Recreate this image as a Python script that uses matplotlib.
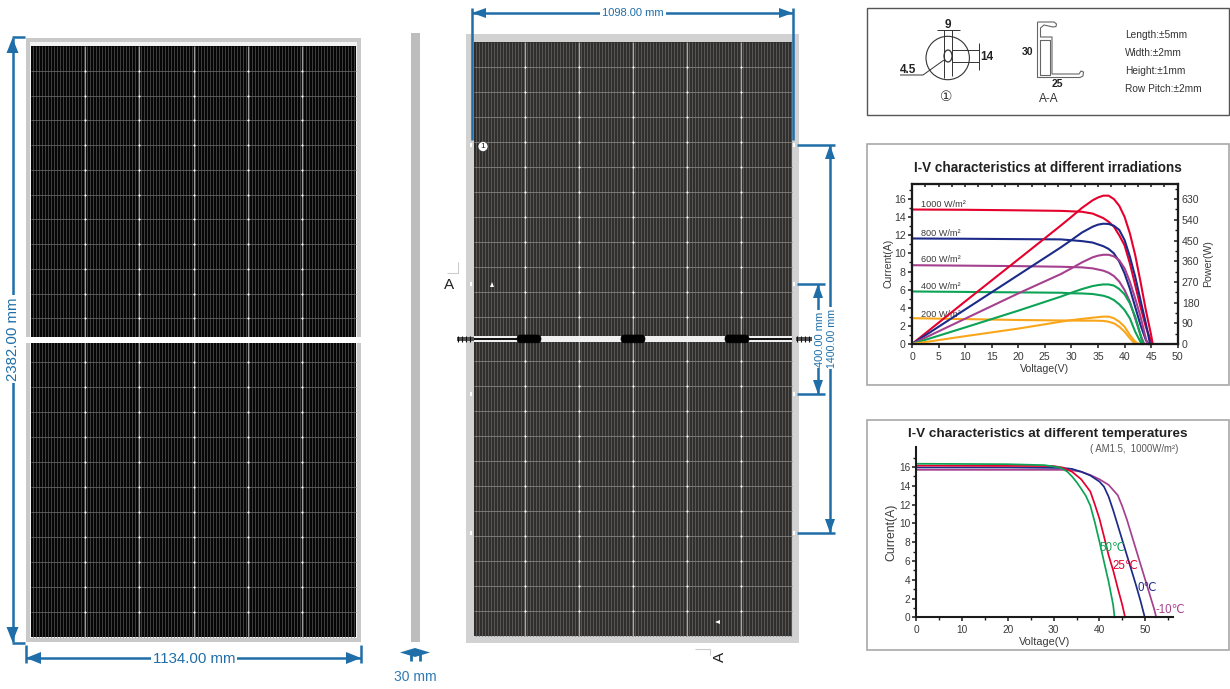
import numpy as np
import matplotlib
matplotlib.use("Agg")
import matplotlib.pyplot as plt
from matplotlib.patches import Rectangle, FancyBboxPatch, Circle, Polygon, Ellipse
from matplotlib.collections import LineCollection

plt.rcParams['font.family'] = ['Liberation Sans', 'DejaVu Sans']
W, H = 1230, 689
BLUE = '#1f6ea8'

# ---- chart data ----
VI_1000 = [0, 10, 20, 28, 32, 34, 36, 37, 38, 39, 40, 41, 42, 43, 44, 45, 45.2]
I_1000 = [14.85, 14.82, 14.76, 14.7, 14.6, 14.4, 13.9, 13.5, 12.95, 12.0, 10.9, 8.9, 6.5, 4.1, 1.9, 0.3, 0]
VI_800 = [0, 10, 20, 28, 32, 34, 36, 37, 38, 39, 40, 41, 42, 43, 44, 44.5]
I_800 = [11.65, 11.62, 11.58, 11.55, 11.36, 11.2, 10.8, 10.5, 10.0, 9.1, 7.8, 6.1, 4.1, 2.1, 0.45, 0]
VI_600 = [0, 10, 20, 28, 32, 34, 36, 37, 38, 39, 40, 41, 42, 43, 43.7]
I_600 = [8.7, 8.65, 8.6, 8.53, 8.46, 8.35, 8.1, 7.87, 7.5, 6.9, 5.96, 4.67, 2.83, 1.0, 0]
VI_400 = [0, 10, 20, 28, 30, 32, 34, 36, 37, 38, 39, 40, 41, 42, 43.2]
I_400 = [5.8, 5.75, 5.7, 5.66, 5.6, 5.58, 5.52, 5.33, 5.15, 4.85, 4.38, 3.75, 2.83, 1.36, 0]
VI_200 = [0, 10, 20, 28, 32, 34, 36, 37, 38, 39, 40, 41, 42]
I_200 = [2.85, 2.75, 2.65, 2.6, 2.58, 2.58, 2.55, 2.46, 2.28, 1.91, 1.36, 0.63, 0]

VP_1000 = [0, 10, 20, 28, 30, 32, 34, 35, 36, 37, 38, 39, 40, 41, 42, 43, 44, 45, 45.3]
P_1000 = [0, 185, 368, 515, 553, 592, 625, 637, 645, 645, 630, 601, 553, 481, 387, 271, 148, 39, 0]
VP_800 = [0, 10, 20, 28, 30, 32, 34, 35, 36, 37, 38, 39, 40, 41, 42, 43, 44, 44.8]
P_800 = [0, 150, 300, 420, 452, 485, 510, 519, 523, 522, 514, 496, 452, 380, 293, 191, 90, 0]
VP_600 = [0, 10, 20, 28, 30, 32, 34, 35, 36, 37, 38, 39, 40, 41, 42, 43, 44, 44.3]
P_600 = [0, 110, 220, 304, 329, 355, 377, 384, 388, 388, 381, 364, 329, 271, 198, 119, 25, 0]
VP_400 = [0, 10, 20, 28, 30, 32, 34, 35, 36, 37, 38, 39, 40, 41, 42, 43, 43.4]
P_400 = [0, 72, 145, 206, 223, 239, 252, 256, 259, 259, 254, 239, 216, 177, 119, 39, 0]
VP_200 = [0, 10, 20, 28, 30, 32, 34, 36, 37, 38, 39, 40, 41, 42, 42.7]
P_200 = [0, 34, 67, 97, 104, 109, 114.5, 119, 119, 112, 97, 75, 39, 10, 0]

V_50 = [0, 20, 28, 31.4, 33, 34, 35, 36, 37, 38, 39, 40, 41, 42, 43, 43.3]
I_50 = [16.35, 16.3, 16.2, 15.95, 15.5, 15.0, 14.4, 13.7, 12.95, 11.9, 10.1, 8.06, 5.9, 3.8, 1.3, 0]
V_25 = [0, 20, 30, 32, 34, 36, 38, 39, 40, 41, 42, 43, 44, 45, 45.6]
I_25 = [16.15, 16.12, 16.1, 15.95, 15.5, 14.7, 13.4, 12.0, 10.5, 8.6, 6.6, 5.0, 3.1, 1.3, 0]
V_0 = [0, 20, 32, 34, 36, 38, 40, 41, 42, 43, 44, 45, 46, 47, 48, 49, 49.9]
I_0 = [15.95, 15.95, 15.9, 15.8, 15.5, 15.1, 14.45, 13.9, 12.85, 11.4, 9.8, 8.2, 6.6, 5.0, 3.4, 1.7, 0]
V_m10 = [0, 20, 32, 34, 36, 38, 40, 42, 44, 45, 46, 47, 48, 49, 50, 51, 52, 52.4]
I_m10 = [15.7, 15.7, 15.7, 15.65, 15.5, 15.15, 14.7, 14.1, 13.0, 11.8, 10.4, 8.8, 7.2, 5.6, 4.0, 2.4, 0.8, 0]

IRR_LABELS = ['1000 W/m²', '800 W/m²', '600 W/m²', '400 W/m²', '200 W/m²']
IRR_COLORS = ['#e5002d', '#1c2a88', '#a5408f', '#0da356', '#f9a61a']
TEMP_LABELS = ['50℃', '25℃', '0℃', '-10℃']
TEMP_COLORS = ['#0da356', '#e5002d', '#1c2a88', '#a5408f']

fig = plt.figure(figsize=(W / 100, H / 100), dpi=100, facecolor='white')
bg = fig.add_axes([0, 0, 1, 1])
bg.set_xlim(0, W)
bg.set_ylim(H, 0)
bg.axis('off')


def rect(x0, y0, x1, y1, fc='none', ec='none', lw=0, z=1):
    bg.add_patch(Rectangle((x0, y0), x1 - x0, y1 - y0, fc=fc, ec=ec, lw=lw, zorder=z))


def lines(segs, color, lw, z=2, alpha=1):
    bg.add_collection(LineCollection(segs, colors=color, linewidths=lw, zorder=z, alpha=alpha))


def arrow_head(x, y, direction, length=15, half=6):
    dx, dy = {'u': (0, -1), 'd': (0, 1), 'l': (-1, 0), 'r': (1, 0)}[direction]
    pts = [(x, y), (x - dx * length - dy * half, y - dy * length - dx * half),
           (x - dx * length + dy * half, y - dy * length + dx * half)]
    bg.add_patch(Polygon(pts, fc=BLUE, ec='none', zorder=6))


def cells(x0, x1, ytop, ybot, gap0, gap1, stripe, vgrid, hgrid, lw_stripe):
    xs = np.arange(x0 + 1.5, x1, 3.0)
    lines([[(x, ytop), (x, gap0)] for x in xs] + [[(x, gap1), (x, ybot)] for x in xs], stripe, lw_stripe)
    xc = (x0 + x1) / 2
    vx = [xc + 54.2 * k for k in range(-2, 3)]
    lines([[(x, ytop), (x, gap0)] for x in vx] + [[(x, gap1), (x, ybot)] for x in vx], vgrid, 0.8, 3)
    hy = list(np.linspace(ytop, gap0, 13)[1:-1]) + list(np.linspace(gap1, ybot, 13)[1:-1])
    lines([[(x0, y), (x1, y)] for y in hy], hgrid, 0.55, 3)
    px = [(x, y) for x in vx for y in hy]
    bg.scatter([p[0] for p in px], [p[1] for p in px], s=2.2, c='white', lw=0, zorder=4)


# ---- left panel ----
rect(26, 38, 361, 642, fc='#c9c9c9', z=1)
rect(30, 42, 357, 638, fc='#f2f2f2', z=1)
rect(31, 46, 356, 637, fc='#060606', z=1)
cells(31, 356, 46, 337, 343, 637, '#444444', '#9a9a9a', '#6a6a6a', 0.65)
rect(26, 337, 361, 343, fc='white', z=5)

# ---- side view ----
rect(411, 33, 420, 642, fc='#bdbdbd', z=1)

# ---- rear panel ----
rect(466, 34, 799, 643, fc='#d2d2d2', z=1)
rect(474, 42, 792, 636, fc='#2f2d2b', z=1)
cells(474, 792, 42, 336, 342, 636, '#585654', '#a8a8a8', '#8a8a88', 0.8)
rect(474, 336, 792, 342, fc='#f0f0f0', z=5)
rect(474, 338.2, 517, 339.6, fc='#111111', z=5)
rect(749, 338.2, 792, 339.6, fc='#111111', z=5)
for xc in (529, 633, 737):
    bg.add_patch(FancyBboxPatch((xc - 12, 335), 24, 7.8, boxstyle='round,pad=0,rounding_size=3.8', fc='black', ec='black', lw=0.5, zorder=6))
for x0, x1 in ((453, 474), (792, 812)):
    rect(x0 + 4, 336.5, x1, 341, fc='#555555', z=6)
    lines([[(x, 336), (x, 341.5)] for x in np.arange(x0 + 5, x1, 4)], '#111111', 0.8, 7)
for y in (145, 284, 394, 533):
    rect(470, y - 2, 472, y + 2, fc='white', z=5)
    rect(793, y - 2, 795, y + 2, fc='white', z=5)
bg.add_patch(Circle((483, 146.5), 5, fc='white', ec='#222222', lw=0.4, zorder=6))
bg.text(483, 146.5, '1', fontsize=6, ha='center', va='center', color='#222222', zorder=7)
bg.add_patch(Polygon([(490, 287), (494, 287), (492, 282)], fc='white', zorder=6))
bg.add_patch(Polygon([(720, 620), (720, 624), (715, 622)], fc='white', zorder=6))
# section marks
bg.text(449.5, 285, 'A', fontsize=11, ha='center', va='center', color='#222222')
lines([[(447, 273), (458, 273), (458, 262)]], '#cccccc', 0.8)
bg.text(720, 657, 'A', fontsize=11, ha='center', va='center', color='#222222', rotation=90)
lines([[(695, 649), (710, 649), (710, 655)]], '#cccccc', 0.8)

# ---- dimensions ----
dim = lambda segs, lw=1.8: lines(segs, BLUE, lw, 5)
dim([[(12.5, 38), (12.5, 642)], [(12, 37), (25, 37)], [(12, 643), (25, 643)]])
arrow_head(12.5, 38, 'u'); arrow_head(12.5, 642, 'd')
bg.text(13, 339, '2382.00 mm', color=BLUE, fontsize=10.8, rotation=90, ha='center', va='center', zorder=7,
        bbox=dict(fc='white', ec='none', pad=1.5))
dim([[(26, 658), (361, 658)], [(26, 645), (26, 663)], [(361, 645), (361, 663)]])
arrow_head(26, 658, 'l'); arrow_head(361, 658, 'r')
bg.text(194, 659, '1134.00 mm', color=BLUE, fontsize=10.8, ha='center', va='center', zorder=7,
        bbox=dict(fc='white', ec='none', pad=1.5))
dim([[(472, 13), (793, 13)], [(472, 8), (472, 140)], [(793, 8), (793, 140)]])
arrow_head(472, 13, 'l', 14, 5); arrow_head(793, 13, 'r', 14, 5)
bg.text(633, 13, '1098.00 mm', color=BLUE, fontsize=8, ha='center', va='center', zorder=7,
        bbox=dict(fc='white', ec='none', pad=1.5))
dim([[(797, 145), (835, 145)], [(797, 533), (835, 533)], [(797, 284), (825, 284)], [(797, 394), (825, 394)]])
dim([[(830, 145), (830, 533)], [(818, 284), (818, 394)]])
arrow_head(830, 145, 'u', 14, 5); arrow_head(830, 533, 'd', 14, 5)
arrow_head(818, 284, 'u', 14, 5); arrow_head(818, 394, 'd', 14, 5)
bg.text(820, 339, '400.00 mm', color=BLUE, fontsize=8, rotation=90, ha='center', va='center', zorder=7,
        bbox=dict(fc='white', ec='none', pad=1))
bg.text(832, 338, '1400.00 mm', color=BLUE, fontsize=7.7, rotation=90, ha='center', va='center', zorder=7,
        bbox=dict(fc='white', ec='none', pad=1))
arrow_head(400, 652.5, 'l', 15, 4.5); arrow_head(430, 652.5, 'r', 15, 4.5)
rect(410.5, 650, 420.5, 655, fc=BLUE, z=6)
dim([[(411, 652), (411, 661)], [(420, 652), (420, 661)]], 2)
bg.text(415.5, 677, '30 mm', color='#2f7ab5', fontsize=10, ha='center', va='center')

# ---- boxes ----
rect(866.5, 7.5, 1228.5, 115, fc='white', ec='#555555', lw=1, z=1)
rect(866.5, 143.5, 1228.5, 385, fc='white', ec='#a8a8a8', lw=1.2, z=1)
rect(866.5, 419.5, 1228.5, 650, fc='white', ec='#a8a8a8', lw=1.2, z=1)

# ---- detail box ----
dk = '#333333'
bg.add_patch(Circle((947.7, 58), 21.7, fc='none', ec=dk, lw=0.8, zorder=2))
bg.add_patch(Ellipse((948, 56), 8, 12, fc='none', ec=dk, lw=0.9, zorder=3))
lines([[(944, 30), (944, 78)], [(952, 30), (952, 76)], [(937, 30), (960, 30)],
       [(952, 50), (979, 50)], [(952, 62), (979, 62)], [(979, 43), (979, 70)],
       [(944, 60), (923, 75), (900, 75)]], dk, 0.7)
for s, x, y, fs in (('9', 948, 24.5, 8.5), ('14', 987, 57, 8.5), ('4.5', 908, 70, 8.5), ('30', 1028, 52, 7.5), ('25', 1057, 84, 7.5)):
    bg.text(x, y, s, fontsize=fs, fontweight='bold', ha='center', va='center', color='#222222')
bg.text(946, 97, '①', fontsize=10, ha='center', va='center', color='#333333', family=['DejaVu Sans'])
bg.text(1049, 98.5, 'A-A', fontsize=8.5, ha='center', va='center', color='#333333')
lines([[(1037.5, 22), (1054, 22), (1056.5, 24), (1056, 26.5), (1053, 27), (1044, 25), (1040.5, 28), (1040.5, 37),
        (1052, 37), (1052, 74), (1079, 74), (1081, 71), (1083.5, 72), (1083, 76), (1080, 77.5), (1037.5, 77.5), (1037.5, 22)],
       [(1040, 40), (1050, 40), (1050, 75), (1040, 75), (1040, 40)]], '#666666', 0.8)
for s, y in (('Length:±5mm', 35), ('Width:±2mm', 53), ('Height:±1mm', 71), ('Row Pitch:±2mm', 88.5)):
    bg.text(1125, y, s, fontsize=7.3, ha='left', va='center', color='#333333')


def inset(x0, x1, ytop, ybot):
    return fig.add_axes([x0 / W, 1 - ybot / H, (x1 - x0) / W, (ybot - ytop) / H], facecolor='none')


def style(ax, sides, fs=7.6):
    for s in ax.spines:
        ax.spines[s].set_visible(s in sides)
        ax.spines[s].set_linewidth(1.5)
        ax.spines[s].set_color('#1a1a1a')
    ax.tick_params(which='major', length=3, width=1.1, labelsize=fs, color='#1a1a1a', labelcolor='#3a3a3a', pad=2.5, direction='out')
    ax.tick_params(which='minor', length=2, width=1, color='#1a1a1a')


# ---- I-V at irradiations ----
a1 = inset(912, 1177.7, 183.7, 344)
a1.set_xlim(0, 50)
a1.set_ylim(0, 17.7)
style(a1, ('left', 'bottom', 'top', 'right'))
a1.set_xticks(range(0, 51, 5))
a1.set_yticks(range(0, 17, 2))
a1.set_yticks(range(1, 18, 2), minor=True)
a1.tick_params(axis='y', pad=1.5)
a1.set_xlabel('Voltage(V)', fontsize=7.6, color='#3a3a3a', labelpad=1.5)
a1.set_ylabel('Current(A)', fontsize=7.6, color='#3a3a3a', labelpad=0)
a3 = a1.twiny()
a3.set_xlim(0, 50)
style(a3, ('left', 'bottom', 'top', 'right'))
a3.set_xticks(np.arange(2.5, 50, 2.5))
a3.tick_params(axis='x', direction='in', length=2.5, labeltop=False)
a2 = a1.twinx()
a2.set_ylim(0, 697)
style(a2, ('left', 'bottom', 'top', 'right'))
a2.set_yticks(range(0, 631, 90))
a2.set_yticks(range(45, 676, 90), minor=True)
a2.tick_params(axis='y', which='both', direction='in', pad=3)
a2.set_ylabel('Power(W)', fontsize=7.6, color='#3a3a3a', labelpad=2.5)
VIS = [VI_1000, VI_800, VI_600, VI_400, VI_200]
IS = [I_1000, I_800, I_600, I_400, I_200]
VPS = [VP_1000, VP_800, VP_600, VP_400, VP_200]
PS = [P_1000, P_800, P_600, P_400, P_200]
LABEL_Y = [14.9, 11.75, 8.8, 5.8, 2.75]
for i, c in enumerate(IRR_COLORS):
    a1.plot(VIS[i], IS[i], color=c, lw=1.5, solid_joinstyle='round', clip_on=False)
    a2.plot(VPS[i], PS[i], color=c, lw=1.5, solid_joinstyle='round', clip_on=False)
    a1.text(1.6, LABEL_Y[i], IRR_LABELS[i], fontsize=6.6, color='#3a3a3a', va='bottom', ha='left', zorder=5)
bg.text(1047.5, 168, 'I-V characteristics at different irradiations', fontsize=9.75, fontweight='bold',
        ha='center', va='center', color='#222222')

# ---- I-V at temperatures ----
b1 = inset(916.3, 1172.7, 447.3, 617.3)
b1.set_xlim(0, 56)
b1.set_ylim(0, 18.1)
style(b1, ('left', 'bottom'), 7.3)
b1.set_xticks(range(0, 51, 10))
b1.set_xticks(range(5, 56, 10), minor=True)
b1.set_yticks(range(0, 17, 2))
b1.set_yticks(range(1, 18, 2), minor=True)
b1.tick_params(axis='y', pad=1.5)
b1.set_xlabel('Voltage(V)', fontsize=7.8, color='#3a3a3a', labelpad=1.5)
b1.set_ylabel('Current(A)', fontsize=8.8, color='#3a3a3a', labelpad=1)
TV = [V_m10, V_0, V_25, V_50]
TI = [I_m10, I_0, I_25, I_50]
for v, i, c in zip(TV, TI, TEMP_COLORS[::-1]):
    b1.plot(v, i, color=c, lw=1.25, solid_joinstyle='round', clip_on=False)
TPOS = [(42.9, 7.4), (45.6, 5.46), (50.4, 3.1), (55.4, 0.75)]
for lab, pos, c in zip(TEMP_LABELS, TPOS, TEMP_COLORS):
    b1.text(pos[0], pos[1], lab, fontsize=8.3, color=c, ha='center', va='center', zorder=6)
bg.text(1047.5, 434, 'I-V characteristics at different temperatures', fontsize=9.7, fontweight='bold',
        ha='center', va='center', color='#222222')
bg.text(1134, 449.5, '( AM1.5,  1000W/m²)', fontsize=6.9, ha='center', va='center', color='#555555')

fig.savefig('out.png', dpi=100)
